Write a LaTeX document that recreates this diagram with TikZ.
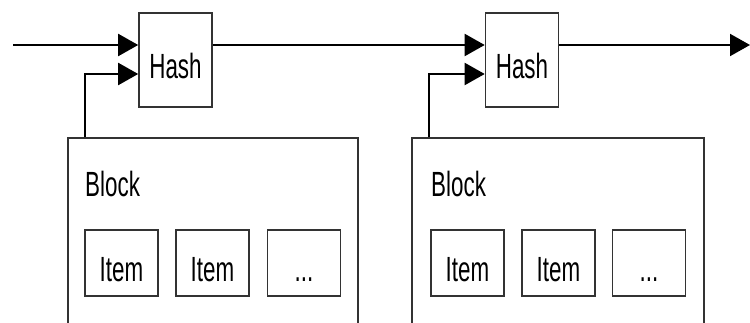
\documentclass[tikz,border=0pt]{standalone}
\usepackage{fontspec}
\newfontfamily\lab[FakeStretch=0.64]{Liberation Sans}
\usetikzlibrary{arrows.meta,calc}
\tikzset{
  box/.style={draw=black!80, line width=1.6pt, fill=white, inner sep=0pt,
    font=\lab\fontsize{35}{38}\selectfont, text height=37pt, text depth=0pt},
  hashbox/.style={box, minimum width=73pt, minimum height=94pt},
  itembox/.style={box, minimum width=73pt, minimum height=66pt},
  blockbox/.style={draw=black!80, line width=1.6pt, minimum width=290pt, minimum height=202pt, inner sep=0pt},
  blocklabel/.style={font=\lab\fontsize{35}{38}\selectfont, inner sep=0pt, anchor=base west},
  arr/.style={draw=black, line width=2pt, -{Triangle[length=20pt,width=22pt]}},
}
\begin{document}
\begin{tikzpicture}[x=1pt,y=-1pt]
\path[use as bounding box] (0,0) rectangle (750,323);
\clip (0,0) rectangle (750,323);
% hash boxes
\node[hashbox] (h1) at (175.5,60) {Hash};
\node[hashbox] (h2) at (522,60) {Hash};
% blocks
\node[blockbox] (b1) at (213,239) {};
\node[blockbox, minimum width=292pt] (b2) at (558,239) {};
\node[blocklabel] (bl1) at (85,197) {Block};
\node[blocklabel] (bl2) at (431,197) {Block};
% items
\node[itembox] (i11) at (121.5,263) {Item};
\node[itembox] (i12) at (212.5,263) {Item};
\node[itembox] (i13) at (304,263) {...};
\node[itembox] (i21) at (467.5,263) {Item};
\node[itembox] (i22) at (558.5,263) {Item};
\node[itembox] (i23) at (649,263) {...};
% connectors
\coordinate (in) at (13,45);
\coordinate (out) at (750,45);
\coordinate (t1) at ($(b1.north west)+(18,0)$);
\coordinate (t2) at ($(b2.north west)+(18,0)$);
\draw[arr] (in) -- (in -| h1.west);
\draw[arr] ([yshift=15pt]h1.east) -- ([yshift=15pt]h2.west);
\draw[arr] ([yshift=15pt]h2.east) -- (out);
\draw[arr] (t1) |- ([yshift=-14pt]h1.west);
\draw[arr] (t2) |- ([yshift=-14pt]h2.west);
\end{tikzpicture}
\end{document}
